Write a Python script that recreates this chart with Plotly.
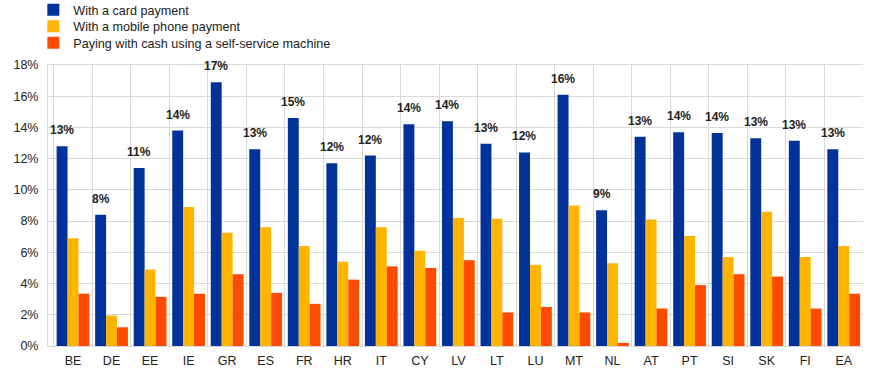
import plotly.graph_objects as go

countries = ["BE","DE","EE","IE","GR","ES","FR","HR","IT","CY","LV","LT","LU","MT","NL","AT","PT","SI","SK","FI","EA"]
card = [12.8,8.4,11.4,13.8,16.9,12.6,14.6,11.7,12.2,14.2,14.4,12.95,12.4,16.1,8.7,13.4,13.7,13.65,13.3,13.15,12.6]
mobile = [6.9,1.95,4.9,8.9,7.25,7.6,6.4,5.4,7.6,6.1,8.2,8.15,5.2,9.0,5.3,8.1,7.05,5.7,8.6,5.7,6.4]
cash = [3.35,1.2,3.15,3.35,4.6,3.4,2.7,4.25,5.1,5.0,5.5,2.15,2.5,2.15,0.2,2.4,3.9,4.6,4.45,2.4,3.35]

names = ["With a card payment","With a mobile phone payment","Paying with cash using a self-service machine"]
colors = ["#003299","#FFB400","#FF4B00"]
font = "Liberation Sans, Arial, sans-serif"
txt = "#222222"

fig = go.Figure()
fig.add_trace(go.Bar(x=countries, y=card, name=names[0], marker_color=colors[0],
                     marker_line_width=0, legend="legend"))
fig.add_trace(go.Bar(x=countries, y=mobile, name=names[1], marker_color=colors[1],
                     marker_line_width=0, legend="legend2"))
fig.add_trace(go.Bar(x=countries, y=cash, name=names[2], marker_color=colors[2],
                     marker_line_width=0, legend="legend3"))

# data labels above the card-payment bars (left bar of each group)
for c, v in zip(countries, card):
    fig.add_annotation(x=c, y=v, text=f"<b>{round(v):d}%</b>", showarrow=False,
                       xanchor="center", yanchor="bottom", xshift=-11, yshift=7,
                       font=dict(family=font, size=12, color=txt))

leg = dict(x=-0.018, xanchor="left", yanchor="middle",
           font=dict(family=font, size=12.6, color=txt), bgcolor="rgba(0,0,0,0)")

fig.update_layout(
    width=874, height=374,
    margin=dict(l=48, r=11, t=65, b=28, autoexpand=False),
    barmode="group", bargap=0.15, bargroupgap=0,
    plot_bgcolor="white", paper_bgcolor="white",
    font=dict(family=font, size=12.5, color=txt),
    showlegend=True,
    legend=dict(leg, y=1.1957),
    legend2=dict(leg, y=1.137),
    legend3=dict(leg, y=1.0783),
)
fig.update_xaxes(tickson="boundaries", showgrid=True, gridcolor="#d9d9d9", gridwidth=1,
                 showline=True, linecolor="#d9d9d9", mirror=True, ticks="",
                 ticklabelstandoff=3,
                 tickfont=dict(family=font, size=12.5, color=txt))
fig.update_yaxes(range=[0, 18], dtick=2, ticksuffix="%", showgrid=True, gridcolor="#d9d9d9",
                 gridwidth=1, showline=True, linecolor="#d9d9d9", zeroline=False, ticks="",
                 ticklabelstandoff=6,
                 tickfont=dict(family=font, size=12.5, color=txt))

fig.write_html("out.html", config={"displayModeBar": False},
               post_script="document.body.style.margin='0';")
